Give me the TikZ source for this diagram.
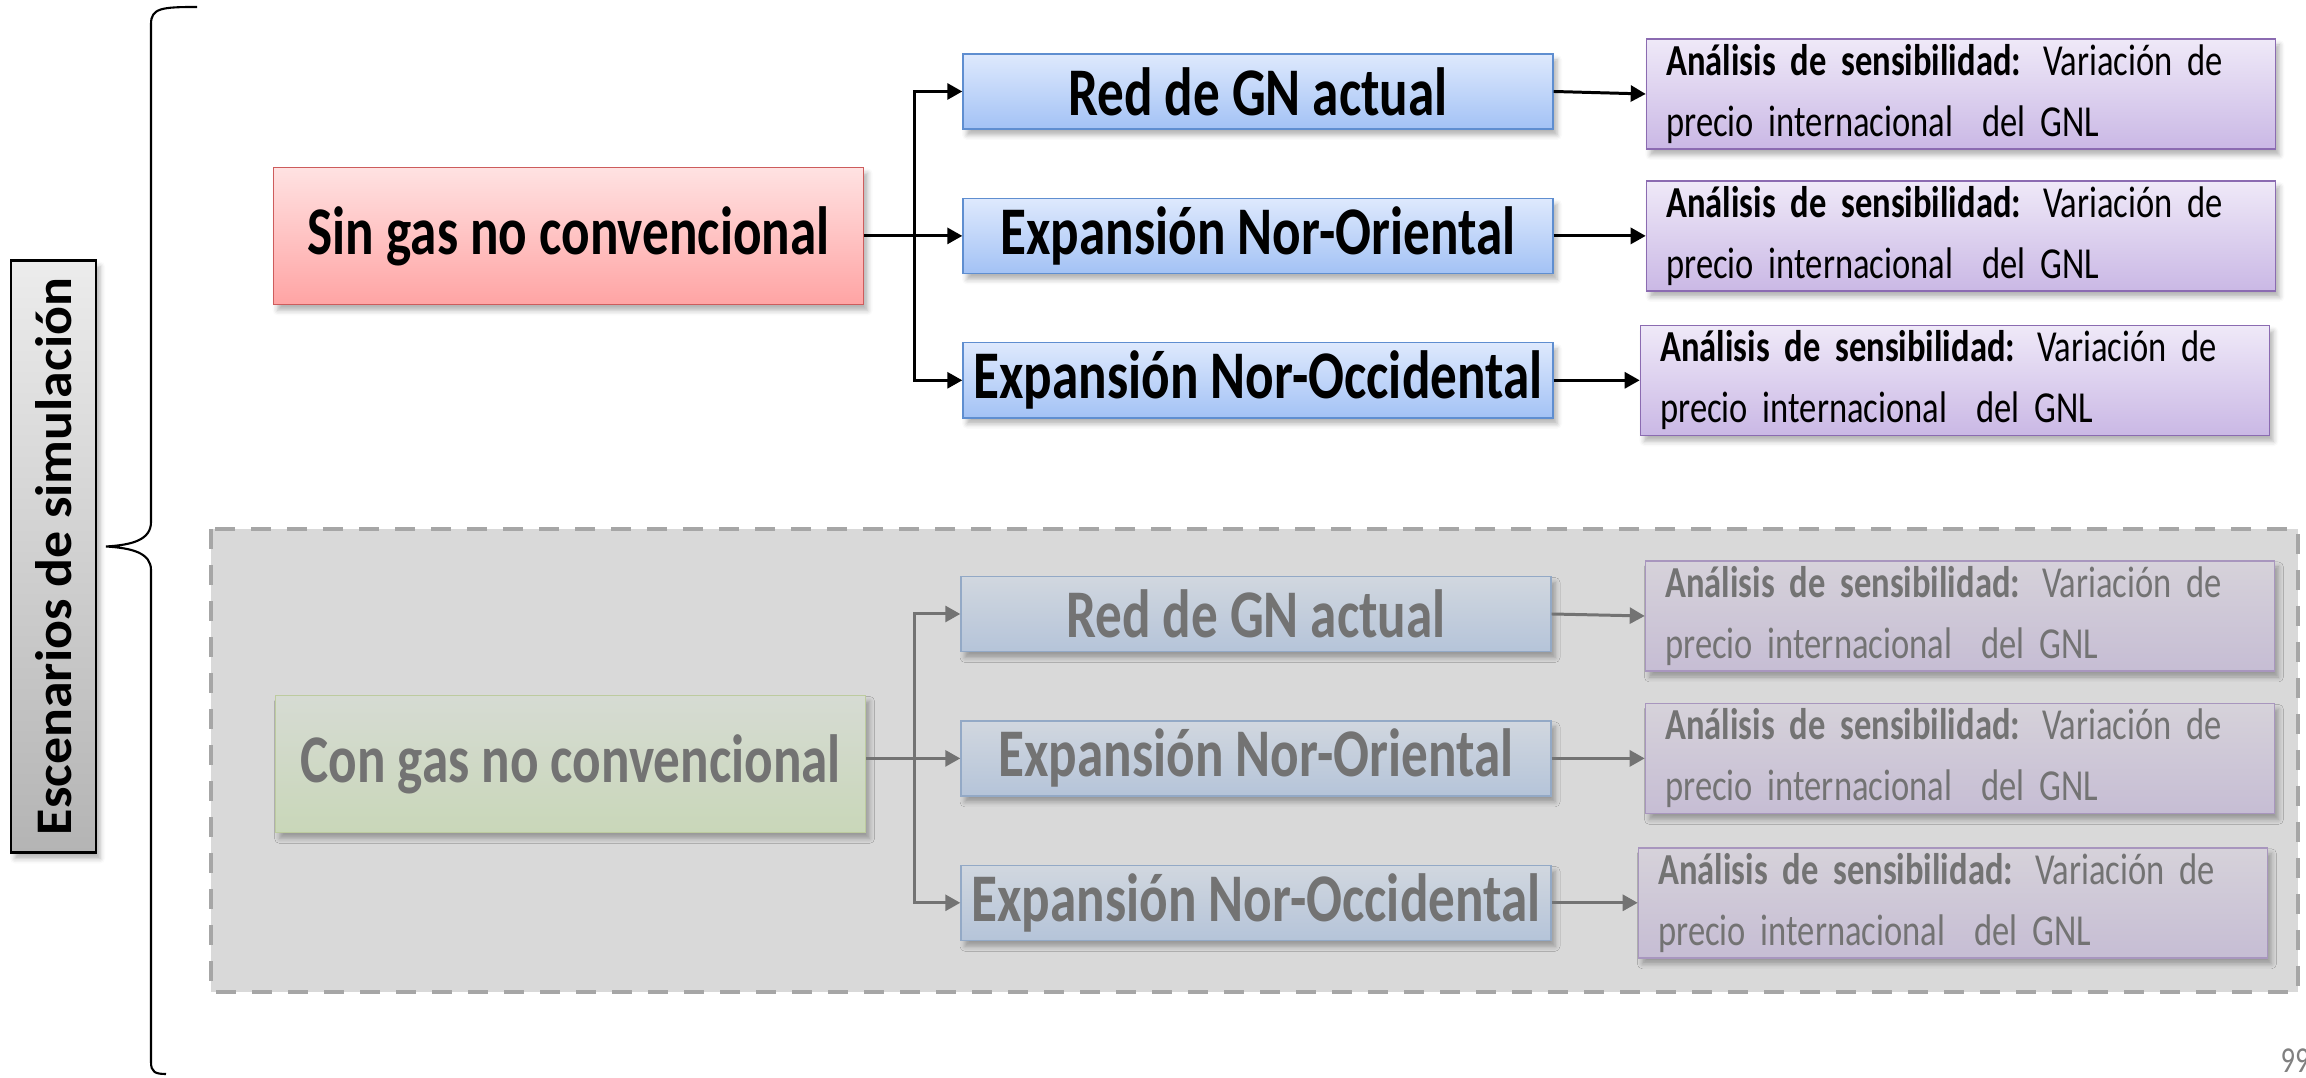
\documentclass[tikz,border=0pt]{standalone}
\usepackage{fontspec}
\setmainfont{Carlito}[FakeStretch=0.78]
\newfontfamily\tallfont{Carlito}[FakeStretch=1.05]
\usepackage{xcolor}
\usepackage{tikz}
\usetikzlibrary{arrows.meta,positioning,calc,shadows.blur}
\definecolor{Ink}{HTML}{000000}
\definecolor{Fade}{HTML}{737373}
\definecolor{RedTop}{HTML}{FFE2E2}
\definecolor{RedBot}{HTML}{FFA4A4}
\definecolor{RedLine}{HTML}{CD5C5C}
\definecolor{BlueTop}{HTML}{DEE9FD}
\definecolor{BlueBot}{HTML}{A3C2F5}
\definecolor{BlueLine}{HTML}{5F8ED0}
\definecolor{LilaTop}{HTML}{EFE9F8}
\definecolor{LilaBot}{HTML}{CAB8E5}
\definecolor{LilaLine}{HTML}{8B6BB1}
\definecolor{GreenTop}{HTML}{D6DBD3}
\definecolor{GreenBot}{HTML}{C9D7B9}
\definecolor{GreenLine}{HTML}{BDCB9F}
\definecolor{DimBlueTop}{HTML}{D1D7DF}
\definecolor{DimBlueBot}{HTML}{B5C4D9}
\definecolor{DimBlueLine}{HTML}{93A9C6}
\definecolor{DimLilaTop}{HTML}{D6D2DA}
\definecolor{DimLilaBot}{HTML}{C6BDD4}
\definecolor{DimLilaLine}{HTML}{A896BE}
\definecolor{Frame}{HTML}{A6A6A6}
\definecolor{FrameFill}{HTML}{D9D9D9}
\definecolor{LabelLight}{HTML}{ECECEC}
\definecolor{LabelDark}{HTML}{B4B4B4}

\begin{document}
\begin{tikzpicture}[node distance=6.8mm and 9.2mm,>={Triangle[length=1.5mm,width=1.6mm]}]
\tikzset{box/.style={rectangle,inner sep=0pt,text=Ink,blur shadow={shadow xshift=0.4mm,shadow yshift=-0.6mm,shadow blur radius=0.5mm,shadow opacity=30}},
scenbox/.style={box,minimum width=5.9cm,minimum height=1.37cm,font=\fontsize{19.4}{23}\selectfont\bfseries},
netbox/.style={box,minimum width=5.9cm,minimum height=0.75cm,font=\fontsize{19.4}{23}\selectfont\bfseries,draw=BlueLine,top color=BlueTop,bottom color=BlueBot},
sensbox/.style={box,minimum width=6.29cm,minimum height=1.1cm,text width=5.89cm,inner xsep=2mm,align=left,font=\fontsize{12.6}{17.4}\selectfont,draw=LilaLine,top color=LilaTop,bottom color=LilaBot},
dim/.style={text=Fade}, arrow/.style={->,line width=0.85pt,Ink}}
\useasboundingbox (0,0) rectangle (23.06,-10.78);

% rotated label and brace
\node[box,rotate=90,draw=Ink,line width=0.8pt,top color=LabelLight,bottom color=LabelDark,minimum width=5.92cm,minimum height=0.85cm,font=\fontsize{14.6}{17}\tallfont\bfseries] (esc) at (0.535,-5.565) {Escenarios de simulación};
\draw[line width=0.6pt,Ink] (1.97,-0.07) .. controls (1.62,-0.07) and (1.51,-0.08) .. (1.51,-0.24) -- (1.51,-5.22) .. controls (1.51,-5.40) and (1.32,-5.45) .. (1.06,-5.465) .. controls (1.32,-5.48) and (1.51,-5.53) .. (1.51,-5.70) -- (1.51,-10.62) .. controls (1.51,-10.72) and (1.55,-10.74) .. (1.66,-10.74);

% sin gas no convencional
\node[netbox] (redA) at (12.58,-0.915) {Red de GN actual};
\node[netbox,below=of redA] (noriA) {Expansión Nor-Oriental};
\node[netbox,below=of noriA] (noccA) {Expansión Nor-Occidental};
\node[scenbox,left=9.8mm of noriA,draw=RedLine,top color=RedTop,bottom color=RedBot] (sin) {Sin gas no convencional};
\node[sensbox,right=of redA,yshift=-0.25mm] (sensA1) {\textbf{Análisis de sensibilidad:} Variación de\\precio internacional\ \ del GNL};
\node[sensbox,right=of noriA] (sensA2) {\textbf{Análisis de sensibilidad:} Variación de\\precio internacional\ \ del GNL};
\node[sensbox,right=8.6mm of noccA] (sensA3) {\textbf{Análisis de sensibilidad:} Variación de\\precio internacional\ \ del GNL};
\coordinate (jA) at ($(sin.east)+(0.5,0)$);
\draw[arrow] (sin.east) -- (noriA.west);
\draw[arrow] (jA) |- (redA.west);
\draw[arrow] (jA) |- (noccA.west);
\draw[arrow] (redA.east) -- (sensA1.west);
\draw[arrow] (noriA.east) -- (sensA2.west);
\draw[arrow] (noccA.east) -- (sensA3.west);

% con gas no convencional (atenuado)
\draw[line width=1.4pt,Frame,fill=FrameFill,dash pattern=on 2mm off 1.6mm] (2.11,-5.29) rectangle (22.98,-9.92);
\node[netbox,dim,draw=DimBlueLine,top color=DimBlueTop,bottom color=DimBlueBot] (redB) at (12.56,-6.14) {Red de GN actual};
\node[netbox,dim,draw=DimBlueLine,top color=DimBlueTop,bottom color=DimBlueBot,below=of redB] (noriB) {Expansión Nor-Oriental};
\node[netbox,dim,draw=DimBlueLine,top color=DimBlueTop,bottom color=DimBlueBot,below=of noriB] (noccB) {Expansión Nor-Occidental};
\node[scenbox,dim,left=9.4mm of noriB,yshift=-0.55mm,draw=GreenLine,top color=GreenTop,bottom color=GreenBot] (con) {Con gas no convencional};
\node[sensbox,dim,right=9.3mm of redB,yshift=-0.2mm,draw=DimLilaLine,top color=DimLilaTop,bottom color=DimLilaBot] (sensB1) {\textbf{Análisis de sensibilidad:} Variación de\\precio internacional\ \ del GNL};
\node[sensbox,dim,right=9.3mm of noriB,draw=DimLilaLine,top color=DimLilaTop,bottom color=DimLilaBot] (sensB2) {\textbf{Análisis de sensibilidad:} Variación de\\precio internacional\ \ del GNL};
\node[sensbox,dim,right=8.6mm of noccB,draw=DimLilaLine,top color=DimLilaTop,bottom color=DimLilaBot] (sensB3) {\textbf{Análisis de sensibilidad:} Variación de\\precio internacional\ \ del GNL};
\coordinate (jB) at ($(con.east |- noriB.west)+(0.48,0)$);
\draw[arrow,Fade] (con.east |- noriB.west) -- (noriB.west);
\draw[arrow,Fade] (jB) |- (redB.west);
\draw[arrow,Fade] (jB) |- (noccB.west);
\draw[arrow,Fade] (redB.east) -- (sensB1.west);
\draw[arrow,Fade] (noriB.east) -- (sensB2.west);
\draw[arrow,Fade] (noccB.east) -- (sensB3.west);

\node[anchor=base west,inner sep=0pt,text=gray,font=\fontsize{10.4}{12}\selectfont] (pg) at (22.80,-10.73) {99};
\end{tikzpicture}
\end{document}
